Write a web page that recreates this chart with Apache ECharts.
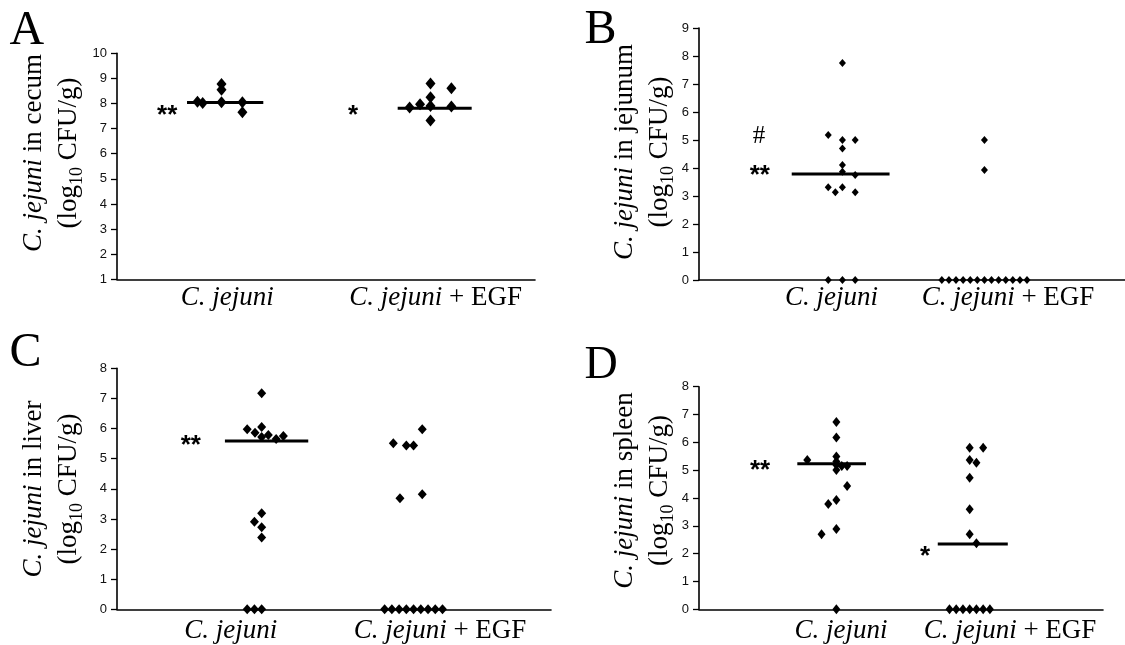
<!DOCTYPE html>
<html><head><meta charset="utf-8">
<script src="https://cdn.jsdelivr.net/npm/echarts@6/dist/echarts.min.js"></script>
<style>html,body{margin:0;padding:0;background:#fff}#c{width:1125px;height:645px}</style>
</head><body><div id="c"></div>
<script>
// ---------- data ----------
const speciesName = 'C. jejuni';
const groupLabels = ['C. jejuni', 'C. jejuni + EGF'];
const yTitleOrgans = ['in cecum', 'in jejunum', 'in liver', 'in spleen'];
const panelLetters = ['A', 'B', 'C', 'D'];
const yRanges = [[1, 10], [0, 9], [0, 8], [0, 8]];

// points: [x jitter from group centre, log10 CFU/g]
const cecumJejuni = [[-0.115, 8.07], [-0.09, 8.02], [0, 8.78], [0, 8.55], [0, 8.05], [0.1, 8.05], [0.1, 7.65]];
const cecumJejuniEgf = [[-0.1, 7.84], [-0.05, 7.97], [0, 8.80], [0, 8.25], [0, 7.90], [0, 7.32], [0.1, 8.61], [0.1, 7.88]];
const cecumMedians = [8.04, 7.81];
const cecumMarks = [[0.74, 7.74, '**'], [1.63, 7.74, '*']];

const jejunumJejuni = [[0.01, 7.75], [-0.09, 5.18], [0.01, 5.0], [0.1, 5.0], [0.01, 4.7], [0.01, 4.11], [0.01, 3.87], [0.1, 3.75],
  [-0.09, 3.31], [-0.04, 3.13], [0.01, 3.31], [0.1, 3.13], [-0.09, 0], [0.01, 0], [0.1, 0]];
const jejunumJejuniEgf = [[0.01, 5.0], [0.01, 3.93], [-0.29, 0], [-0.24, 0], [-0.19, 0], [-0.14, 0], [-0.09, 0], [-0.04, 0],
  [0.01, 0], [0.06, 0], [0.11, 0], [0.16, 0], [0.21, 0], [0.26, 0], [0.31, 0]];
const jejunumMedians = [3.79, null];
const jejunumMarks = [[0.423, 5.12, '#'], [0.428, 3.93, '**']];

const liverJejuni = [[0, 7.17], [-0.1, 5.98], [0, 6.05], [-0.046, 5.86], [0, 5.72], [0.046, 5.79], [0.1, 5.65], [0.15, 5.75],
  [0, 3.19], [-0.05, 2.91], [0, 2.72], [0, 2.38], [-0.1, 0], [-0.05, 0], [0, 0]];
const liverJejuniEgf = [[-0.09, 5.51], [0, 5.44], [0.05, 5.44], [0.11, 5.98], [-0.044, 3.69], [0.11, 3.82],
  [-0.15, 0], [-0.1, 0], [-0.05, 0], [0, 0], [0.05, 0], [0.1, 0], [0.15, 0], [0.2, 0], [0.25, 0]];
const liverMedians = [5.59, null];
const liverMarks = [[0.51, 5.62, '**']];

const spleenJejuni = [[0.02, 6.73], [0.02, 6.17], [-0.196, 5.37], [0.02, 5.49], [0.02, 5.31], [0.02, 5.19], [0.02, 5.01],
  [0.06, 5.15], [0.1, 5.15], [0.1, 4.43], [0.02, 3.93], [-0.04, 3.78], [0.02, 2.89], [-0.09, 2.70], [0.02, 0]];
const spleenJejuniEgf = [[0.01, 5.81], [0.11, 5.81], [0.01, 5.37], [0.06, 5.27], [0.01, 4.73], [0.01, 3.60], [0.01, 2.70], [0.06, 2.37],
  [-0.14, 0], [-0.09, 0], [-0.04, 0], [0.01, 0], [0.06, 0], [0.11, 0], [0.16, 0]];
const spleenMedians = [5.23, 2.35];
const spleenMarks = [[0.453, 5.19, '**'], [1.678, 2.11, '*']];

// ---------- layout ----------
const SERIF = '"Liberation Serif", "Times New Roman", serif';
const SANS = '"Liberation Sans", Arial, sans-serif';
const layout = [
  { grid: { left: 117, top: 53.3, width: 418, height: 226 }, x: [0.5, 2.5], sym: [10, 12],
    medSpan: [[-0.165, 0.2], [-0.157, 0.197]], title: [51.7, 153], letter: [9.5, 31.7, 48],
    labels: [[227.3, 297.6], [435.6, 297.6]] },
  { grid: { left: 699, top: 28, width: 433, height: 252 }, x: [0, 3], sym: [7, 8],
    medSpan: [[-0.347, 0.342], [-0.3, 0.3]], title: [642, 152], letter: [584.5, 30, 48],
    labels: [[831.5, 297.6], [1008, 297.6]] },
  { grid: { left: 117, top: 368.3, width: 434, height: 241 }, x: [0, 3], sym: [9, 10],
    medSpan: [[-0.254, 0.322], [-0.25, 0.3]], title: [51.7, 489], letter: [9.5, 353, 48],
    labels: [[230.8, 631], [440, 631]] },
  { grid: { left: 699, top: 386.7, width: 404, height: 222.6 }, x: [0, 3], sym: [8, 10],
    medSpan: [[-0.27, 0.24], [-0.227, 0.293]], title: [642, 490.5], letter: [584.5, 366, 46],
    labels: [[841, 631], [1010, 631]] }
];
const panelData = [
  { groups: [cecumJejuni, cecumJejuniEgf], med: cecumMedians, marks: cecumMarks },
  { groups: [jejunumJejuni, jejunumJejuniEgf], med: jejunumMedians, marks: jejunumMarks },
  { groups: [liverJejuni, liverJejuniEgf], med: liverMedians, marks: liverMarks },
  { groups: [spleenJejuni, spleenJejuniEgf], med: spleenMedians, marks: spleenMarks }
];

const italicize = s => s.replace(speciesName, '{i|' + speciesName + '}');

const grids = [], xAxes = [], yAxes = [], series = [], graphics = [];
layout.forEach((L, i) => {
  grids.push(Object.assign({ containLabel: false }, L.grid));
  xAxes.push({ type: 'value', gridIndex: i, min: L.x[0], max: L.x[1],
    axisLine: { show: true, onZero: false, lineStyle: { color: '#000', width: 1.6 } },
    axisTick: { show: false }, axisLabel: { show: false }, splitLine: { show: false } });
  yAxes.push({ type: 'value', gridIndex: i, min: yRanges[i][0], max: yRanges[i][1], interval: 1,
    axisLine: { show: true, onZero: false, lineStyle: { color: '#000', width: 1.6 } },
    axisTick: { show: true, inside: false, length: 6, lineStyle: { color: '#000', width: 1.3 } },
    axisLabel: { show: true, fontFamily: SANS, fontSize: 13, color: '#111', margin: 10 },
    splitLine: { show: false } });
  const P = panelData[i];
  P.groups.forEach((pts, g) => {
    const centre = g + 1;
    series.push({ type: 'scatter', xAxisIndex: i, yAxisIndex: i, symbol: 'diamond', symbolSize: L.sym,
      itemStyle: { color: '#000', opacity: 1 }, clip: false, silent: true, z: 3,
      data: pts.map(([dx, v]) => [centre + dx, v]) });
    const m = P.med[g];
    if (m !== null) {
      series.push({ type: 'line', xAxisIndex: i, yAxisIndex: i, symbol: 'none', silent: true, z: 2,
        lineStyle: { color: '#000', width: 3, opacity: 1 },
        data: [[centre + L.medSpan[g][0], m], [centre + L.medSpan[g][1], m]] });
    }
  });
  series.push({ type: 'scatter', xAxisIndex: i, yAxisIndex: i, symbolSize: 1, silent: true, clip: false,
    itemStyle: { color: '#fff', opacity: 0 },
    label: { show: true, position: 'inside', formatter: '{b}', color: '#000', opacity: 1 },
    data: P.marks.map(([x, y, t]) => ({ value: [x, y], name: t,
      label: t === '#'
        ? { fontFamily: SERIF, fontSize: 25, color: '#000', offset: [0, 0] }
        : { fontFamily: SANS, fontSize: 26, fontWeight: 'bold', color: '#000', offset: [0, 6] } })) });

  // panel letter
  graphics.push({ type: 'text', x: L.letter[0], y: L.letter[1], silent: true,
    style: { text: panelLetters[i], fontFamily: SERIF, fontSize: L.letter[2], fill: '#000',
      align: 'left', verticalAlign: 'middle' } });
  // y axis title (two lines, rotated)
  graphics.push({ type: 'text', x: L.title[0], y: L.title[1], rotation: Math.PI / 2, silent: true,
    style: { text: '{i|' + speciesName + '} ' + yTitleOrgans[i] + '\n(log{s|10} CFU/g)',
      fontFamily: SERIF, fontSize: 27, lineHeight: 35, fill: '#000', align: 'center', verticalAlign: 'middle',
      rich: { i: { fontFamily: SERIF, fontSize: 27, fontStyle: 'italic', lineHeight: 35, fill: '#000' },
              s: { fontFamily: SERIF, fontSize: 18, lineHeight: 18, verticalAlign: 'bottom', fill: '#000' } } } });
  // group labels
  groupLabels.forEach((lab, g) => {
    graphics.push({ type: 'text', x: L.labels[g][0], y: L.labels[g][1], silent: true,
      style: { text: italicize(lab), fontFamily: SERIF, fontSize: 27, fill: '#000', align: 'center', verticalAlign: 'middle',
        rich: { i: { fontFamily: SERIF, fontSize: 27, fontStyle: 'italic', fill: '#000' } } } });
  });
});

const chart = echarts.init(document.getElementById('c'), null, { renderer: 'canvas' });
chart.setOption({
  animation: false,
  backgroundColor: '#fff',
  grid: grids, xAxis: xAxes, yAxis: yAxes, series: series, graphic: graphics
});
</script></body></html>
